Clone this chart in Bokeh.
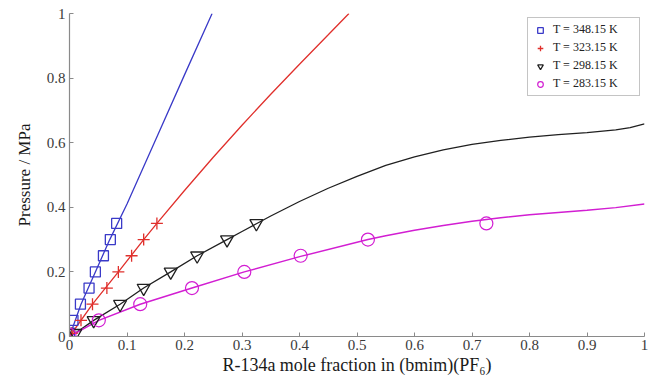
from bokeh.plotting import figure
from bokeh.models import Range1d, Legend, LegendItem, FixedTicker
from bokeh.embed import file_html
from bokeh.resources import INLINE

# Experimental solubility points: R-134a mole fraction vs pressure (MPa)
x_348 = [0.0, 0.006, 0.019, 0.034, 0.045, 0.059, 0.071, 0.082]
p_348 = [0.01, 0.05, 0.10, 0.15, 0.20, 0.25, 0.30, 0.35]

x_323 = [0.004, 0.020, 0.040, 0.065, 0.085, 0.108, 0.129, 0.152]
p_323 = [0.01, 0.05, 0.10, 0.15, 0.20, 0.25, 0.30, 0.35]

x_298 = [0.010, 0.042, 0.088, 0.129, 0.176, 0.222, 0.274, 0.325]
p_298 = [0.01, 0.05, 0.10, 0.15, 0.20, 0.25, 0.30, 0.35]

x_283 = [0.0, 0.051, 0.123, 0.213, 0.304, 0.402, 0.519, 0.725]
p_283 = [0.005, 0.05, 0.10, 0.15, 0.20, 0.25, 0.30, 0.35]

# Model (EoS) curves
cx_348 = [0.0, 0.02, 0.045, 0.070, 0.100, 0.150, 0.200, 0.248]
cp_348 = [0.0, 0.10, 0.20, 0.30, 0.41, 0.61, 0.81, 1.00]

cx_323 = [0.0, 0.040, 0.085, 0.129, 0.152, 0.200, 0.250, 0.300, 0.350,
          0.400, 0.450, 0.486]
cp_323 = [0.0, 0.100, 0.200, 0.300, 0.350, 0.452, 0.555, 0.654, 0.750,
          0.843, 0.934, 1.000]

cx_298 = [0.0, 0.010, 0.042, 0.088, 0.129, 0.176, 0.222, 0.274, 0.300, 0.325,
          0.350, 0.400, 0.450, 0.500, 0.550, 0.600, 0.650, 0.700, 0.750,
          0.800, 0.850, 0.900, 0.950, 0.975, 1.000]
cp_298 = [0.0, 0.010, 0.050, 0.100, 0.150, 0.200, 0.250, 0.300, 0.325, 0.349,
          0.373, 0.418, 0.459, 0.496, 0.530, 0.556, 0.578, 0.595, 0.607,
          0.617, 0.625, 0.631, 0.640, 0.647, 0.658]

cx_283 = [0.0, 0.051, 0.123, 0.213, 0.304, 0.402, 0.519, 0.550, 0.600, 0.650,
          0.700, 0.750, 0.800, 0.850, 0.900, 0.950, 1.000]
cp_283 = [0.0, 0.050, 0.100, 0.150, 0.200, 0.248, 0.300, 0.312, 0.329, 0.344,
          0.357, 0.368, 0.377, 0.384, 0.391, 0.399, 0.410]

x_ticks = [0, 0.1, 0.2, 0.3, 0.4, 0.5, 0.6, 0.7, 0.8, 0.9, 1]
y_ticks = [0, 0.2, 0.4, 0.6, 0.8, 1]
labels = ["T = 348.15 K", "T = 323.15 K", "T = 298.15 K", "T = 283.15 K"]

SERIF = "Liberation Serif"
BLUE = "#3a3ac8"
RED = "#e0302c"
BLACK = "#202020"
MAGENTA = "#d21ed2"

p = figure(width=660, height=384, output_backend="svg", toolbar_location=None,
           x_range=Range1d(0, 1), y_range=Range1d(0, 1),
           min_border_left=69, min_border_right=16,
           min_border_top=13, min_border_bottom=48)
p.frame_width = 575
p.frame_height = 323
p.outline_line_color = None
p.grid.visible = False
p.background_fill_color = "white"

p.xaxis.ticker = FixedTicker(ticks=x_ticks)
p.yaxis.ticker = FixedTicker(ticks=y_ticks)
p.xaxis.major_label_overrides = {0: "0", 1: "1"}
p.yaxis.major_label_overrides = {0: "0", 1: "1"}
for ax in (p.xaxis, p.yaxis):
    ax.axis_line_color = "#8a8a8a"
    ax.axis_line_width = 1.2
    ax.major_tick_line_color = "#8a8a8a"
    ax.major_tick_in = 4
    ax.major_tick_out = 0
    ax.minor_tick_line_color = None
    ax.major_label_text_font = SERIF
    ax.major_label_text_font_size = "15px"
    ax.major_label_text_color = "#3a3a3a"
    ax.axis_label_text_font = SERIF
    ax.axis_label_text_font_style = "normal"
    ax.axis_label_text_color = "#1a1a1a"
p.xaxis.axis_label_text_font_size = "18px"
p.yaxis.axis_label_text_font_size = "17px"
p.xaxis.major_label_standoff = 3
p.yaxis.major_label_standoff = 4
p.xaxis.axis_label = "R-134a mole fraction in (bmim)(PF\u2086)"
p.yaxis.axis_label = "Pressure / MPa"
p.xaxis.axis_label_standoff = 2
p.yaxis.axis_label_standoff = 10

# model curves
p.line(cx_348, cp_348, line_color=BLUE, line_width=1.3)
p.line(cx_323, cp_323, line_color=RED, line_width=1.3)
p.line(cx_298, cp_298, line_color=BLACK, line_width=1.3)
p.line(cx_283, cp_283, line_color=MAGENTA, line_width=1.5)

# experimental markers
r1 = p.scatter(x_348, p_348, marker="square", size=10, fill_color=None,
               line_color=BLUE, line_width=1.3)
r2 = p.scatter(x_323, p_323, marker="cross", size=12, line_color=RED,
               line_width=1.3)
r3 = p.scatter(x_298, p_298, marker="inverted_triangle", size=13,
               fill_color=None, line_color=BLACK, line_width=1.3)
r4 = p.scatter(x_283, p_283, marker="circle", size=13, fill_color=None,
               line_color=MAGENTA, line_width=1.2)

legend = Legend(items=[LegendItem(label=labels[0], renderers=[r1]),
                       LegendItem(label=labels[1], renderers=[r2]),
                       LegendItem(label=labels[2], renderers=[r3]),
                       LegendItem(label=labels[3], renderers=[r4])],
                location="top_right")
legend.label_text_font = SERIF
legend.label_text_font_size = "12px"
legend.label_text_color = "#222222"
legend.border_line_color = "#8a8a8a"
legend.border_line_width = 1
legend.background_fill_alpha = 1
legend.padding = 4
legend.spacing = 3
legend.margin = 4
legend.glyph_height = 14
legend.label_height = 14
legend.glyph_width = 16
legend.label_standoff = 5
legend.label_width = 82
p.add_layout(legend)

open("out.html", "w").write(file_html(p, INLINE))
